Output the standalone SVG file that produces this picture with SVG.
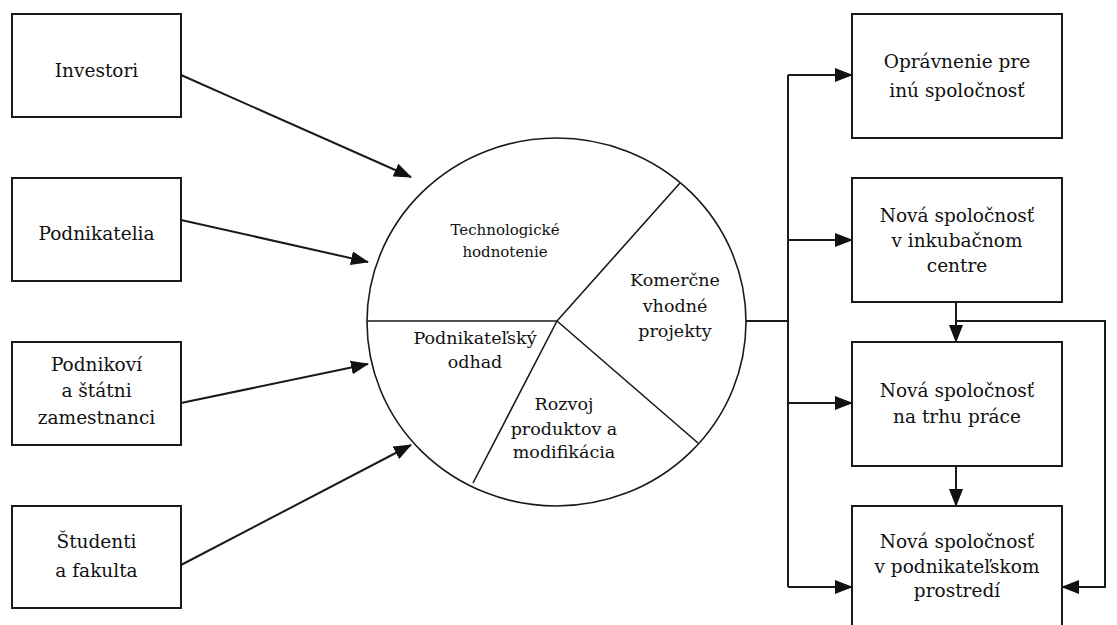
<svg xmlns="http://www.w3.org/2000/svg" width="1117" height="625" viewBox="0 0 1117 625">
<style>
.box{fill:#fff;stroke:#1a1a1a;stroke-width:2}
text{font-family:'DejaVu Serif','Liberation Serif',serif;fill:#111;text-anchor:middle}
.t{font-size:18.5px}
.c{font-size:17.5px}
.s{font-size:15px}
.ln{fill:none;stroke:#1a1a1a;stroke-width:2}
.thin{fill:none;stroke:#1a1a1a;stroke-width:1.6}
</style>
<defs>
<marker id="ah" markerUnits="userSpaceOnUse" markerWidth="18" markerHeight="14" viewBox="0 0 18 14" refX="17" refY="7" orient="auto">
<path d="M0,0 L18,7 L0,14 Z" fill="#111"/>
</marker>
</defs>
<rect width="1117" height="625" fill="#fff"/>
<g id="investori"><rect class="box" x="12" y="14" width="169" height="103"/><text class="t" x="96.5" y="77">Investori</text></g>
<g id="podnikatelia"><rect class="box" x="12" y="178" width="169" height="103"/><text class="t" x="96.5" y="240">Podnikatelia</text></g>
<g id="zamestnanci"><rect class="box" x="12" y="342" width="169" height="103"/><text class="t" x="96.5" y="371">Podnikoví</text><text class="t" x="96.5" y="397">a štátni</text><text class="t" x="96.5" y="424">zamestnanci</text></g>
<g id="studenti"><rect class="box" x="12" y="506" width="169" height="102"/><text class="t" x="96.5" y="548">Študenti</text><text class="t" x="96.5" y="577">a fakulta</text></g>
<g id="kruh">
<ellipse class="thin" cx="556.5" cy="322" rx="189.5" ry="184"/>
<path class="thin" d="M367,321 L557,321 M557,321 L680,183 M557,321 L698,443 M557,321 L473,483"/>
<text class="s" x="505" y="235">Technologické</text><text class="s" x="505" y="257">hodnotenie</text>
<text class="c" x="675" y="286">Komerčne</text><text class="c" x="675" y="312">vhodné</text><text class="c" x="675" y="337">projekty</text>
<text class="c" x="475" y="344">Podnikateľský</text><text class="c" x="475" y="368">odhad</text>
<text class="c" x="564" y="410">Rozvoj</text><text class="c" x="564" y="435">produktov a</text><text class="c" x="564" y="458">modifikácia</text>
</g>
<g id="opravnenie"><rect class="box" x="852" y="14" width="210" height="124"/><text class="t" x="957" y="68">Oprávnenie pre</text><text class="t" x="957" y="97">inú spoločnosť</text></g>
<g id="inkubator"><rect class="box" x="852" y="178" width="210" height="124"/><text class="t" x="957" y="222">Nová spoločnosť</text><text class="t" x="957" y="247">v inkubačnom</text><text class="t" x="957" y="272">centre</text></g>
<g id="trh"><rect class="box" x="852" y="342" width="210" height="124"/><text class="t" x="957" y="397">Nová spoločnosť</text><text class="t" x="957" y="423">na trhu práce</text></g>
<g id="prostredie"><rect class="box" x="852" y="506" width="210" height="130"/><text class="t" x="957" y="548">Nová spoločnosť</text><text class="t" x="957" y="573">v podnikateľskom</text><text class="t" x="957" y="597">prostredí</text></g>
<g id="connectors">
<line class="ln" x1="181" y1="75" x2="411" y2="177" marker-end="url(#ah)"/>
<line class="ln" x1="181" y1="220" x2="368" y2="262" marker-end="url(#ah)"/>
<line class="ln" x1="181" y1="403" x2="368" y2="364" marker-end="url(#ah)"/>
<line class="ln" x1="181" y1="565" x2="411" y2="445" marker-end="url(#ah)"/>
<path class="ln" d="M746,321 L788,321 M788,75 L788,587"/>
<line class="ln" x1="788" y1="75" x2="852" y2="75" marker-end="url(#ah)"/>
<line class="ln" x1="788" y1="240" x2="852" y2="240" marker-end="url(#ah)"/>
<line class="ln" x1="788" y1="403" x2="852" y2="403" marker-end="url(#ah)"/>
<line class="ln" x1="788" y1="587" x2="852" y2="587" marker-end="url(#ah)"/>
<line class="ln" x1="956" y1="302" x2="956" y2="342" marker-end="url(#ah)"/>
<line class="ln" x1="956" y1="466" x2="956" y2="506" marker-end="url(#ah)"/>
<path class="ln" d="M956,321 L1105,321 L1105,587 L1062,587" marker-end="url(#ah)"/>
</g>
</svg>
